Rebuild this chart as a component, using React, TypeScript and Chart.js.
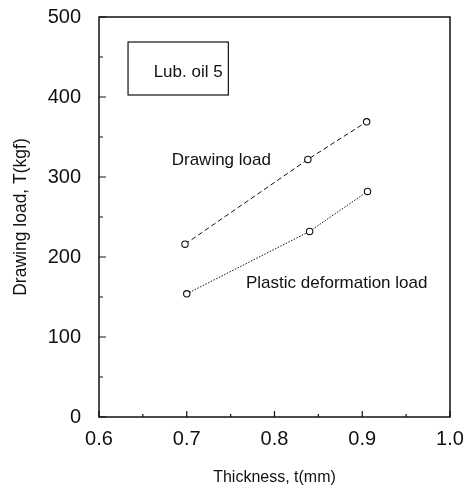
import { useEffect, useRef } from "react";
import { Chart, registerables } from "chart.js";

Chart.register(...registerables);

// Thickness t (mm) and measured loads T (kgf)
const drawingThickness = [0.698, 0.838, 0.905];
const drawingLoad = [216, 322, 369];
const plasticThickness = [0.7, 0.84, 0.906];
const plasticLoad = [154, 232, 282];

const xTicks = [0.6, 0.7, 0.8, 0.9, 1.0];
const yTicks = [0, 100, 200, 300, 400, 500];

const FONT = '"Liberation Sans", Arial, Helvetica, sans-serif';
const INK = "#111";

// Frame, inward tick marks, the lubricant box and the curve labels
const decorations = {
  id: "decorations",
  afterDatasetsDraw(chart: any) {
    const { ctx, chartArea: a, scales } = chart;
    const xs = scales.x;
    const ys = scales.y;
    ctx.save();
    ctx.strokeStyle = INK;
    ctx.lineWidth = 1.5;
    ctx.strokeRect(a.left, a.top, a.right - a.left, a.bottom - a.top);

    ctx.lineWidth = 1.2;
    ctx.beginPath();
    for (let v = 0; v <= 500; v += 50) {
      const py = ys.getPixelForValue(v);
      const len = v % 100 === 0 ? 7 : 4;
      ctx.moveTo(a.left, py);
      ctx.lineTo(a.left + len, py);
    }
    for (let i = 0; i <= 8; i++) {
      const v = 0.6 + i * 0.05;
      const px = xs.getPixelForValue(v);
      const len = i % 2 === 0 ? 6 : 3;
      ctx.moveTo(px, a.bottom);
      ctx.lineTo(px, a.bottom - len);
    }
    ctx.stroke();

    // "Lub. oil 5" box
    const bx1 = xs.getPixelForValue(0.6331);
    const bx2 = xs.getPixelForValue(0.7474);
    const by1 = ys.getPixelForValue(468.75);
    const by2 = ys.getPixelForValue(402.5);
    ctx.lineWidth = 1.2;
    ctx.strokeRect(bx1, by1, bx2 - bx1, by2 - by1);

    ctx.fillStyle = INK;
    ctx.textAlign = "center";
    ctx.textBaseline = "middle";
    ctx.font = `17px ${FONT}`;
    ctx.fillText("Lub. oil 5", xs.getPixelForValue(0.7016), ys.getPixelForValue(431));
    ctx.fillText("Drawing load", xs.getPixelForValue(0.7394), ys.getPixelForValue(321));
    ctx.fillText(
      "Plastic deformation load",
      xs.getPixelForValue(0.8709),
      ys.getPixelForValue(167.5)
    );
    ctx.restore();
  },
};

export default function App() {
  const canvasRef = useRef<HTMLCanvasElement | null>(null);

  useEffect(() => {
    if (!canvasRef.current) return;
    const toPoints = (xsArr: number[], ysArr: number[]) =>
      xsArr.map((x, i) => ({ x, y: ysArr[i] }));

    const common = {
      showLine: true,
      borderColor: INK,
      borderWidth: 1,
      pointRadius: 3.2,
      pointBorderWidth: 1.1,
      pointBackgroundColor: "#fff",
      pointBorderColor: INK,
      fill: false,
    };

    const chart = new Chart(canvasRef.current, {
      type: "scatter",
      data: {
        datasets: [
          {
            ...common,
            label: "Drawing load",
            data: toPoints(drawingThickness, drawingLoad),
            borderDash: [5, 3],
          },
          {
            ...common,
            label: "Plastic deformation load",
            data: toPoints(plasticThickness, plasticLoad),
            borderDash: [1.5, 1.5],
          },
        ],
      },
      options: {
        animation: false,
        responsive: false,
        layout: { padding: { top: 17, right: 22, left: 0, bottom: 0 } },
        plugins: {
          legend: { display: false },
          tooltip: { enabled: false },
        },
        scales: {
          x: {
            type: "linear",
            min: 0.6,
            max: 1.0,
            grid: { display: false },
            border: { display: false },
            afterBuildTicks: (s: any) => {
              s.ticks = xTicks.map((value) => ({ value }));
            },
            afterFit: (s: any) => {
              s.height = 71;
              s.paddingLeft = 0;
              s.paddingRight = 0;
            },
            ticks: {
              padding: 2,
              color: INK,
              font: { family: FONT, size: 20 },
              callback: (v: any) => Number(v).toFixed(1),
            },
            title: {
              display: true,
              text: "Thickness, t(mm)",
              color: INK,
              font: { family: FONT, size: 16 },
              padding: { bottom: 1, top: 0 },
            },
          },
          y: {
            type: "linear",
            min: 0,
            max: 500,
            grid: { display: false },
            border: { display: false },
            afterBuildTicks: (s: any) => {
              s.ticks = yTicks.map((value) => ({ value }));
            },
            afterFit: (s: any) => {
              s.width = 99;
              s.paddingTop = 0;
              s.paddingBottom = 0;
            },
            ticks: {
              padding: 10,
              color: INK,
              font: { family: FONT, size: 20 },
            },
            title: {
              display: true,
              text: "Drawing load, T(kgf)",
              color: INK,
              font: { family: FONT, size: 17.5 },
              padding: { top: 10.5, bottom: 0 },
            },
          },
        },
      } as any,
      plugins: [decorations],
    });
    return () => chart.destroy();
  }, []);

  return (
    <div style={{ position: "fixed", left: 0, top: 0, width: 472, height: 488, background: "#fff" }}>
      <canvas ref={canvasRef} width={472} height={488} style={{ width: 472, height: 488 }} />
    </div>
  );
}
